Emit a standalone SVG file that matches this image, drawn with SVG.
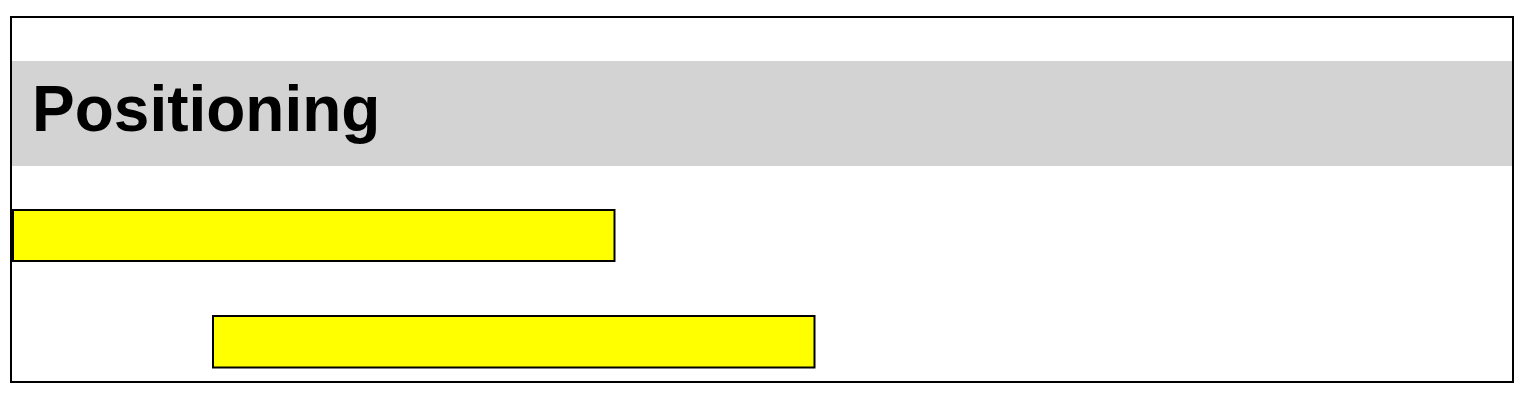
<svg xmlns="http://www.w3.org/2000/svg" width="1536" height="402" viewBox="0 0 1536 402">
<style>
.frame{fill:#ffffff;stroke:#000000;stroke-width:2}
.band{fill:#d3d3d3}
.title{font-family:"Liberation Sans",Arial,Helvetica,sans-serif;font-weight:bold;font-size:64px;fill:#000000}
.bar{fill:#ffff00;stroke:#000000;stroke-width:2}
</style>
<rect width="1536" height="402" fill="#ffffff"/>
<g id="frame">
<rect class="frame" x="11" y="17" width="1502" height="365"/>
</g>
<g id="header">
<rect class="band" x="12" y="61" width="1500" height="105"/>
<text class="title" x="32" y="131">Positioning</text>
</g>
<g id="bar1">
<rect class="bar" x="13" y="210" width="601.5" height="51"/>
</g>
<g id="bar2">
<rect class="bar" x="213" y="316" width="601.5" height="51.5"/>
</g>
<g id="connectors"></g>
</svg>
